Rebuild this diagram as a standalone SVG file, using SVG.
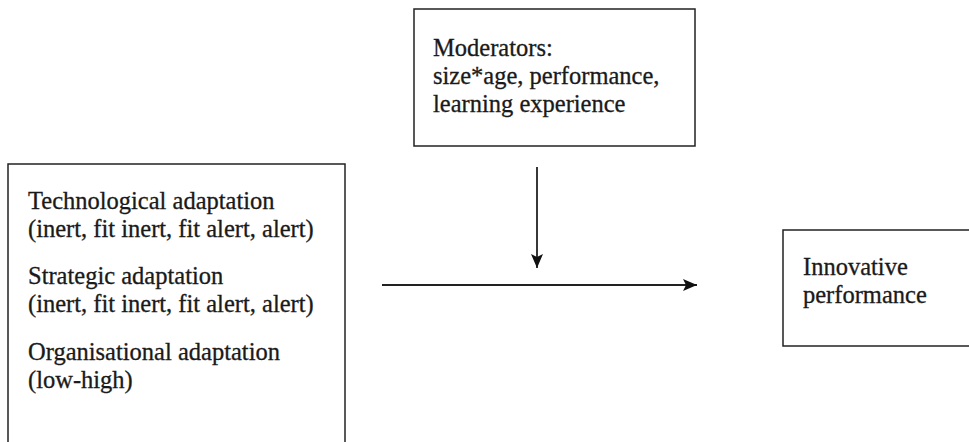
<svg xmlns="http://www.w3.org/2000/svg" width="969" height="442" viewBox="0 0 969 442">
<defs>
<marker id="ah" viewBox="0 0 14 12" refX="14" refY="6" markerWidth="14" markerHeight="12" markerUnits="userSpaceOnUse" orient="auto">
<path d="M0,0 L14,6 L0,12 L3,6 Z" fill="#111"/>
</marker>
<style>
.box{fill:#fff;stroke:#222;stroke-width:1.5}
.t{font-family:"Liberation Serif","Times New Roman",serif;font-size:24.5px;fill:#1a1a1a;stroke:#1a1a1a;stroke-width:0.3}
.c{stroke:#222;stroke-width:1.8;fill:none}
</style>
</defs>
<rect width="969" height="442" fill="#fff"/>
<g id="moderators">
<rect class="box" x="414" y="9" width="281" height="137"/>
<text class="t" x="433" y="56">Moderators:</text>
<text class="t" x="433" y="84">size*age, performance,</text>
<text class="t" x="433" y="112">learning experience</text>
</g>
<g id="adaptation">
<rect class="box" x="8" y="164" width="337" height="290"/>
<text class="t" x="28" y="209">Technological adaptation</text>
<text class="t" x="28" y="237">(inert, fit inert, fit alert, alert)</text>
<text class="t" x="28" y="284">Strategic adaptation</text>
<text class="t" x="28" y="312">(inert, fit inert, fit alert, alert)</text>
<text class="t" x="28" y="360">Organisational adaptation</text>
<text class="t" x="28" y="388">(low-high)</text>
</g>
<g id="innovative">
<rect class="box" x="783" y="230" width="200" height="116"/>
<text class="t" x="803" y="275">Innovative</text>
<text class="t" x="803" y="303">performance</text>
</g>
<g id="connectors">
<line class="c" x1="537" y1="167" x2="537" y2="268" marker-end="url(#ah)"/>
<line class="c" x1="382" y1="285" x2="697" y2="285" marker-end="url(#ah)"/>
</g>
</svg>
